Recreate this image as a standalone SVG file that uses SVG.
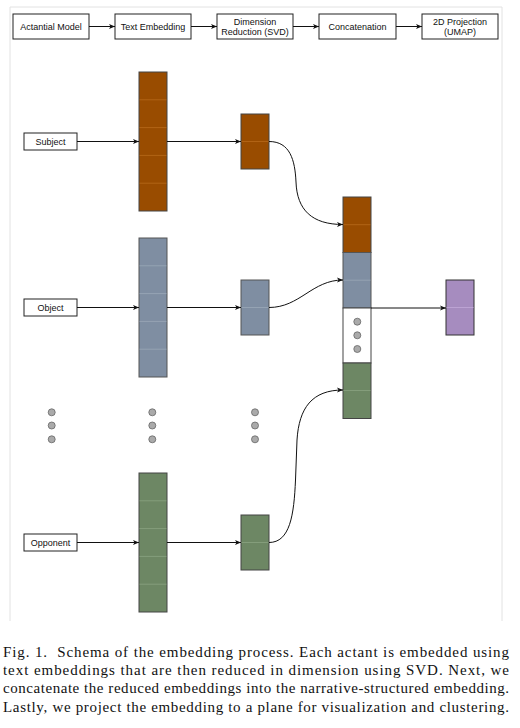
<svg xmlns="http://www.w3.org/2000/svg" width="520" height="728" viewBox="0 0 520 728">
<defs>
<style>
.frame{stroke:#e2e2e2;stroke-width:1;fill:none}
.box{fill:#fff;stroke:#222;stroke-width:1}
.lbl{font-family:"Liberation Sans",Arial,sans-serif;font-size:9px;fill:#111;text-anchor:middle}
.conn{fill:none;stroke:#111;stroke-width:1}
.or{fill:#994c00;stroke:#444;stroke-width:1}
.or-d{stroke:#b86a1a;stroke-width:0.8}
.bl{fill:#7f8ea2;stroke:#555;stroke-width:1}
.bl-d{stroke:#9aa8b8;stroke-width:0.8}
.gr{fill:#6d8764;stroke:#444;stroke-width:1}
.gr-d{stroke:#8aa381;stroke-width:0.8}
.pu{fill:#a68cbf;stroke:#333;stroke-width:1}
.pu-d{stroke:#c2aad8;stroke-width:0.8}
.dot{fill:#aaa;stroke:#666;stroke-width:0.8}
.cap{font-family:"Liberation Serif","Times New Roman",serif;font-size:15px;fill:#111}
</style>
<marker id="ah" viewBox="0 0 10 10" refX="10" refY="5" markerWidth="6" markerHeight="6" markerUnits="userSpaceOnUse" orient="auto">
<path d="M0,1 L10,5 L0,9 L2.5,5 Z" fill="#111"/>
</marker>
</defs>
<g id="frame">
<path class="frame" d="M10,621 V7 H502 V621"/>
</g>
<g id="pipeline">
<g id="step-actantial"><rect class="box" x="13" y="14" width="76" height="25"/><text class="lbl" x="51" y="29.5">Actantial Model</text></g>
<g id="step-text"><rect class="box" x="115" y="14" width="76" height="25"/><text class="lbl" x="153" y="29.5">Text Embedding</text></g>
<g id="step-svd"><rect class="box" x="217" y="14" width="76" height="25"/><text class="lbl" x="255" y="24.5">Dimension</text><text class="lbl" x="255" y="35">Reduction (SVD)</text></g>
<g id="step-concat"><rect class="box" x="319" y="14" width="77" height="25"/><text class="lbl" x="357.5" y="29.5">Concatenation</text></g>
<g id="step-umap"><rect class="box" x="422" y="14" width="76" height="25"/><text class="lbl" x="460" y="24.5">2D Projection</text><text class="lbl" x="460" y="35">(UMAP)</text></g>
</g>
<g id="subject-label"><rect class="box" x="24" y="133" width="53" height="17"/><text class="lbl" x="50.5" y="144.5">Subject</text></g>
<g id="object-label"><rect class="box" x="24" y="299" width="53" height="17"/><text class="lbl" x="50.5" y="310.5">Object</text></g>
<g id="opponent-label"><rect class="box" x="24" y="534" width="53" height="17"/><text class="lbl" x="50.5" y="545.5">Opponent</text></g>
<g id="subject-embedding">
<rect class="or" x="139" y="72" width="28" height="139"/>
<path class="or-d" d="M139.5,99.8H166.5M139.5,127.6H166.5M139.5,155.4H166.5M139.5,183.2H166.5"/>
</g>
<g id="object-embedding">
<rect class="bl" x="139" y="238" width="28" height="139"/>
<path class="bl-d" d="M139.5,265.8H166.5M139.5,293.6H166.5M139.5,321.4H166.5M139.5,349.2H166.5"/>
</g>
<g id="opponent-embedding">
<rect class="gr" x="139" y="473" width="28" height="139"/>
<path class="gr-d" d="M139.5,500.8H166.5M139.5,528.6H166.5M139.5,556.4H166.5M139.5,584.2H166.5"/>
</g>
<g id="subject-reduced"><rect class="or" x="241" y="114" width="28" height="55"/><path class="or-d" d="M241.5,141.5H268.5"/></g>
<g id="object-reduced"><rect class="bl" x="241" y="280" width="28" height="55"/><path class="bl-d" d="M241.5,307.5H268.5"/></g>
<g id="opponent-reduced"><rect class="gr" x="241" y="515" width="28" height="55"/><path class="gr-d" d="M241.5,542.5H268.5"/></g>
<g id="concat-embedding">
<rect class="or" x="343" y="197" width="28" height="55.5"/>
<path class="or-d" d="M343.5,224.7H370.5"/>
<rect class="bl" x="343" y="252.5" width="28" height="55.5"/>
<path class="bl-d" d="M343.5,280.2H370.5"/>
<rect x="343" y="308" width="28" height="55" fill="#fff" stroke="#444" stroke-width="1"/>
<circle class="dot" cx="357.3" cy="321.7" r="3.5"/>
<circle class="dot" cx="357.3" cy="335.3" r="3.5"/>
<circle class="dot" cx="357.3" cy="349" r="3.5"/>
<rect class="gr" x="343" y="363" width="28" height="55.5"/>
<path class="gr-d" d="M343.5,390.5H370.5"/>
</g>
<g id="projection"><rect class="pu" x="446" y="280" width="28" height="55"/><path class="pu-d" d="M446.5,307.5H473.5"/></g>
<g id="ellipsis">
<circle class="dot" cx="51.7" cy="412.3" r="3.5"/><circle class="dot" cx="51.7" cy="425.5" r="3.5"/><circle class="dot" cx="51.7" cy="439.3" r="3.5"/>
<circle class="dot" cx="152.3" cy="412.3" r="3.5"/><circle class="dot" cx="152.3" cy="425.5" r="3.5"/><circle class="dot" cx="152.3" cy="439.3" r="3.5"/>
<circle class="dot" cx="255" cy="412.3" r="3.5"/><circle class="dot" cx="255" cy="425.5" r="3.5"/><circle class="dot" cx="255" cy="439.3" r="3.5"/>
</g>
<g id="connectors">
<path class="conn" marker-end="url(#ah)" d="M89,26.5H115"/>
<path class="conn" marker-end="url(#ah)" d="M191,26.5H217"/>
<path class="conn" marker-end="url(#ah)" d="M293,26.5H319"/>
<path class="conn" marker-end="url(#ah)" d="M396,26.5H422"/>
<path class="conn" marker-end="url(#ah)" d="M77,141.5H139"/>
<path class="conn" marker-end="url(#ah)" d="M167,141.5H241"/>
<path class="conn" marker-end="url(#ah)" d="M77,307.5H139"/>
<path class="conn" marker-end="url(#ah)" d="M167,307.5H241"/>
<path class="conn" marker-end="url(#ah)" d="M77,542.5H139"/>
<path class="conn" marker-end="url(#ah)" d="M167,542.5H241"/>
<path class="conn" marker-end="url(#ah)" d="M269,141.5C290,141.5 295,160 296,182C297,210 312,224.5 343,224.5"/>
<path class="conn" marker-end="url(#ah)" d="M269,307.5C300,307.5 312,280 343,280"/>
<path class="conn" marker-end="url(#ah)" d="M269,542.5C290,542.5 294,515 295.5,480L297,440C299,408 312,390 343,390"/>
<path class="conn" marker-end="url(#ah)" d="M371,308H446"/>
</g>
<g id="caption">
<text class="cap" x="3" y="656.5" textLength="506" lengthAdjust="spacing">Fig. 1. &#160;Schema of the embedding process. Each actant is embedded using</text>
<text class="cap" x="3" y="674.5" textLength="506" lengthAdjust="spacing">text embeddings that are then reduced in dimension using SVD. Next, we</text>
<text class="cap" x="3" y="693" textLength="506" lengthAdjust="spacing">concatenate the reduced embeddings into the narrative-structured embedding.</text>
<text class="cap" x="3" y="711.5" textLength="506" lengthAdjust="spacing">Lastly, we project the embedding to a plane for visualization and clustering.</text>
</g>
</svg>
